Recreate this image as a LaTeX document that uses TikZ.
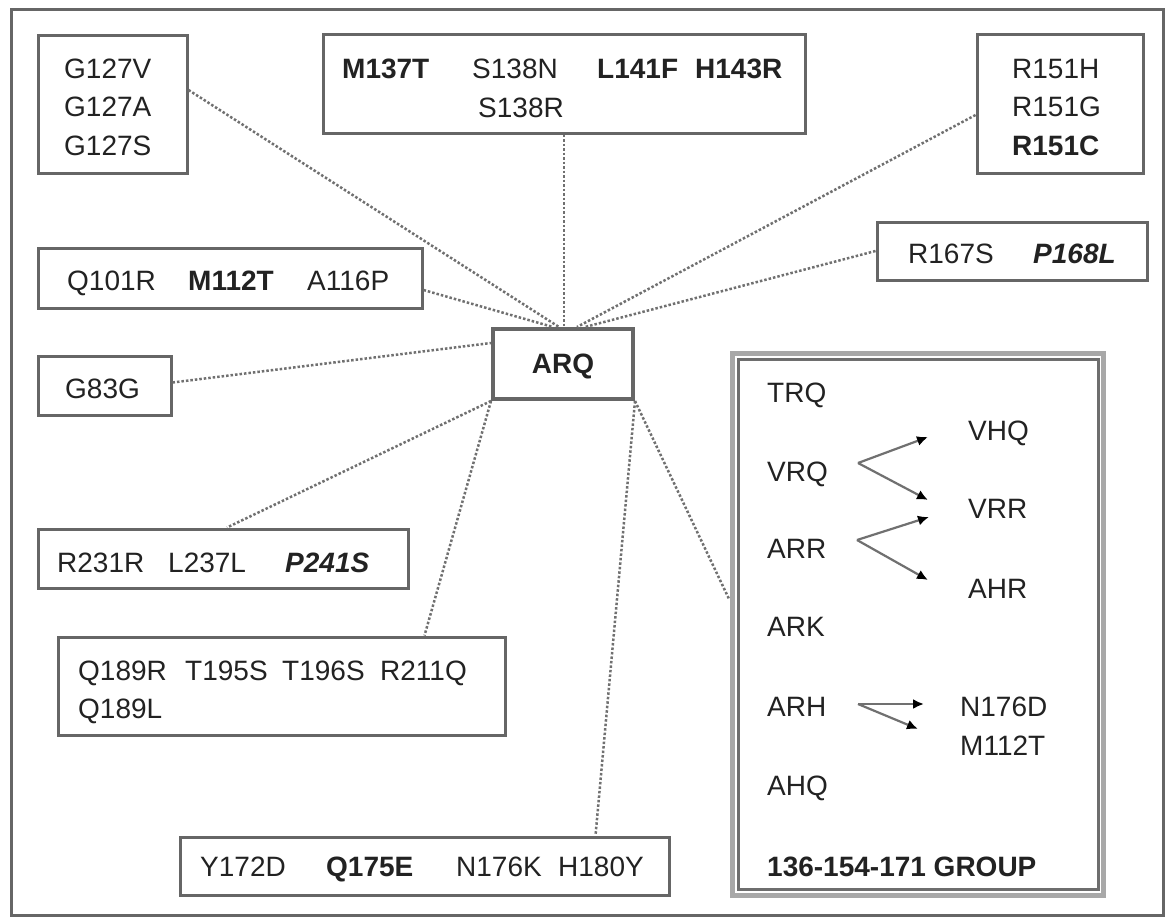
\documentclass[tikz,border=0pt]{standalone}
\usepackage{fontspec}
\setmainfont{Liberation Sans}
\usetikzlibrary{arrows.meta}
\definecolor{boxc}{HTML}{666666}
\definecolor{linec}{HTML}{707070}
\definecolor{txtc}{HTML}{222222}
\definecolor{grpouter}{HTML}{A8A8A8}
\definecolor{grpinner}{HTML}{6E6E6E}
\begin{document}
\begin{tikzpicture}[x=1pt,y=-1pt,
  box/.style={draw=boxc, line width=3pt, fill=white, inner sep=0pt},
  conn/.style={draw=linec, line width=2.5pt, dash pattern=on 2.5pt off 2pt},
  lbl/.style={anchor=base west, inner sep=0pt, text=txtc, font=\fontsize{28}{34}\selectfont},
  blbl/.style={lbl, font=\fontsize{28}{34}\selectfont\bfseries},
  bilbl/.style={lbl, font=\fontsize{28}{34}\selectfont\bfseries\itshape},
  fork/.style={draw=linec, line width=2.2pt, -{Latex[length=11pt,width=10pt,color=black]}}]
\useasboundingbox (0,0) rectangle (1172,918);
\fill[white] (0,0) rectangle (1172,918);
\draw[draw=boxc, line width=3pt] (11,9) rectangle (1163,915);

% boxes
\node[box, minimum width=149pt, minimum height=138pt] (g127) at (112.5,104) {};
\node[box, minimum width=482pt, minimum height=99pt] (m137) at (564,83.5) {};
\node[box, minimum width=166pt, minimum height=139pt] (r151) at (1060,103.5) {};
\node[box, minimum width=270pt, minimum height=58pt] (r167) at (1012,251) {};
\node[box, minimum width=384pt, minimum height=60pt] (q101) at (230,278) {};
\node[box, minimum width=133pt, minimum height=59pt] (g83) at (104.5,385.5) {};
\node[box, line width=4pt, minimum width=140pt, minimum height=70pt] (arq) at (563,364) {};
\node[box, minimum width=370pt, minimum height=59pt] (r231) at (223,558.5) {};
\node[box, minimum width=447pt, minimum height=98pt] (q189) at (281.5,686) {};
\node[box, minimum width=489pt, minimum height=58pt] (y172) at (424.5,866) {};
\node[draw=grpouter, line width=5pt, fill=white, minimum width=371pt, minimum height=542pt] (grp) at (917.5,624) {};
\draw[grpinner, line width=2.5pt] ([shift={(9pt,-9pt)}]grp.north west) rectangle ([shift={(-7pt,8pt)}]grp.south east);

% connectors
\draw[conn] ([yshift=14pt]g127.east) -- ([xshift=-4pt]arq.north);
\draw[conn] (m137.south) -- (m137.south |- arq.north);
\draw[conn] ([yshift=-11.5pt]r151.west) -- ([xshift=14pt]arq.north);
\draw[conn] (r167.west) -- ([xshift=22pt]arq.north);
\draw[conn] ([yshift=-12pt]q101.east) -- ([xshift=-10pt]arq.north);
\draw[conn] ([yshift=3pt]g83.east) -- ([yshift=21pt]arq.west);
\draw[conn] (arq.south west) -- ([xshift=4pt]r231.north);
\draw[conn] (arq.south west) -- ([xshift=-82pt]q189.north east);
\draw[conn] (arq.south east) -- ([xshift=-75pt]y172.north east);
\draw[conn] (arq.south east) -- ([yshift=24pt]grp.west);

% texts
\node[lbl] (t1) at (64,78) {G127V};
\node[lbl] (t2) at (64,116) {G127A};
\node[lbl] (t3) at (64,155) {G127S};

\node[blbl] (t4) at (342,78) {M137T};
\node[lbl] (t5) at (472,78) {S138N};
\node[blbl] (t6) at (597,78) {L141F};
\node[blbl] (t7) at (695,78) {H143R};
\node[lbl] (t8) at (478,117) {S138R};

\node[lbl] (t9) at (1012,78) {R151H};
\node[lbl] (t10) at (1012,116) {R151G};
\node[blbl] (t11) at (1012,155) {R151C};

\node[lbl] (t12) at (908,263) {R167S};
\node[bilbl] (t13) at (1033,263) {P168L};

\node[lbl] (t14) at (67,290) {Q101R};
\node[blbl] (t15) at (188,290) {M112T};
\node[lbl] (t16) at (307,290) {A116P};

\node[lbl] (t17) at (65,398) {G83G};
\node[blbl, anchor=base] (t18) at (563,373) {ARQ};

\node[lbl] (t19) at (57,572) {R231R};
\node[lbl] (t20) at (168,572) {L237L};
\node[bilbl] (t21) at (285,572) {P241S};

\node[lbl] (t22) at (78,680) {Q189R};
\node[lbl] (t23) at (185,680) {T195S};
\node[lbl] (t24) at (282,680) {T196S};
\node[lbl] (t25) at (380,680) {R211Q};
\node[lbl] (t26) at (78,718) {Q189L};

\node[lbl] (t27) at (200,876) {Y172D};
\node[blbl] (t28) at (326,876) {Q175E};
\node[lbl] (t29) at (456,876) {N176K};
\node[lbl] (t30) at (558,876) {H180Y};

% group contents
\node[lbl] (trq) at (767,402) {TRQ};
\node[lbl] (vrq) at (767,481) {VRQ};
\node[lbl] (arr) at (767,558) {ARR};
\node[lbl] (ark) at (767,636) {ARK};
\node[lbl] (arh) at (767,716) {ARH};
\node[lbl] (ahq) at (767,795) {AHQ};
\node[blbl] (grpl) at (767,876) {136-154-171 GROUP};
\node[lbl] (vhq) at (968,440) {VHQ};
\node[lbl] (vrr) at (968,518) {VRR};
\node[lbl] (ahr) at (968,598) {AHR};
\node[lbl] (n176) at (960,716) {N176D};
\node[lbl] (m112) at (960,755) {M112T};

\coordinate (f1) at (858,463);
\coordinate (f1a) at (928,437);
\coordinate (f1b) at (928,500);
\coordinate (f2) at (857,540);
\coordinate (f2a) at (929,517);
\coordinate (f2b) at (928,580);
\coordinate (f3) at (858,704);
\coordinate (f3a) at (924,704);
\coordinate (f3b) at (918,729);
\draw[fork] (f1) -- (f1a);
\draw[fork] (f1) -- (f1b);
\draw[fork] (f2) -- (f2a);
\draw[fork] (f2) -- (f2b);
\draw[fork] (f3) -- (f3a);
\draw[fork] (f3) -- (f3b);
\end{tikzpicture}
\end{document}
